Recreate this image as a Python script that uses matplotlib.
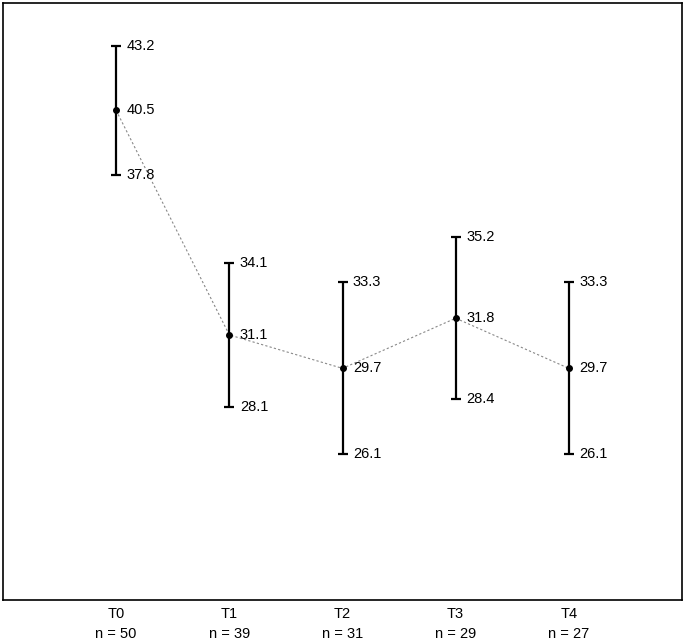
import matplotlib.pyplot as plt
import numpy as np

plt.rcParams['font.family'] = ['Liberation Sans', 'DejaVu Sans']

# data
timepoints = ['T0', 'T1', 'T2', 'T3', 'T4']
n_counts = [50, 39, 31, 29, 27]
means = [40.5, 31.1, 29.7, 31.8, 29.7]
lower = [37.8, 28.1, 26.1, 28.4, 26.1]
upper = [43.2, 34.1, 33.3, 35.2, 33.3]

x = np.arange(1, len(timepoints) + 1)
means = np.array(means)
lower = np.array(lower)
upper = np.array(upper)

fig = plt.figure(figsize=(6.85, 6.43), dpi=100)
ax = fig.add_axes([0.0044, 0.0669, 0.9912, 0.9284])

# dashed line connecting the means
ax.plot(x, means, color='#888888', linestyle=(0, (2, 2)), linewidth=0.8, zorder=1)

ax.errorbar(x, means, yerr=[means - lower, upper - means], fmt='o',
            color='black', markersize=4, elinewidth=1.6, capsize=3.5,
            capthick=1.6, zorder=2)

for xi, m, lo, hi in zip(x, means, lower, upper):
    for v in (hi, m, lo):
        ax.annotate(f'{v:.1f}', (xi, v), xytext=(7.5, 0), textcoords='offset points',
                    va='center', ha='left', fontsize=10.5)

ax.set_xlim(0, 6)
ax.set_ylim(20, 45)
ax.set_xticks(x)
ax.set_xticklabels([f'{t}\nn = {n}' for t, n in zip(timepoints, n_counts)],
                   fontsize=10.5, linespacing=1.55)
ax.tick_params(axis='x', length=0, pad=5)
ax.set_yticks([])
for s in ax.spines.values():
    s.set_linewidth(1.2)

fig.savefig('out.png', dpi=100)
